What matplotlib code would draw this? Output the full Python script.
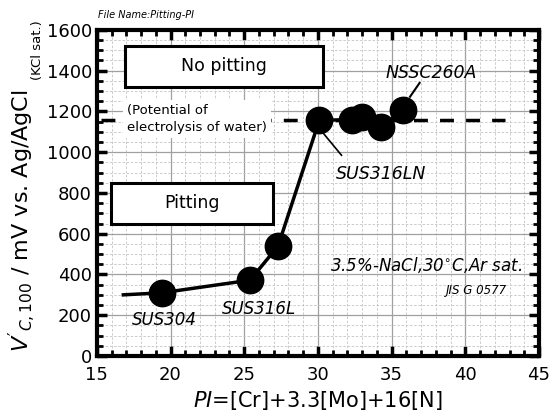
import numpy as np
import matplotlib
matplotlib.use("Agg")
import matplotlib.pyplot as plt
from matplotlib.patches import Rectangle
from matplotlib.ticker import MultipleLocator

plt.rcParams['mathtext.fontset'] = 'custom'
plt.rcParams['mathtext.rm'] = 'DejaVu Sans'
plt.rcParams['mathtext.it'] = 'DejaVu Sans:italic'

# PI values and pitting potentials
pi_line = [16.8, 19.4, 25.4, 27.3, 30.1, 32.3, 33.0, 34.3, 35.8]
v_line = [300, 310, 372, 540, 1158, 1158, 1172, 1125, 1205]
pi_pts = pi_line[1:]
v_pts = v_line[1:]

water_x = [15.3, 42.7]
water_v = [1160, 1160]

fig = plt.figure(figsize=(5.5, 4.17), dpi=100)
ax = fig.add_axes([0.176, 0.1463, 0.804, 0.782])

ax.set_xlim(15, 45)
ax.set_ylim(0, 1600)
ax.xaxis.set_major_locator(MultipleLocator(5))
ax.xaxis.set_minor_locator(MultipleLocator(1))
ax.yaxis.set_major_locator(MultipleLocator(200))
ax.yaxis.set_minor_locator(MultipleLocator(50))

ax.grid(which="major", color="#a0a0a0", lw=0.9, ls="-")
ax.grid(which="minor", color="#c4c4c4", lw=0.6, ls=(0, (3, 2)))
ax.set_axisbelow(True)

ax.tick_params(which="major", direction="in", length=7, width=2.5,
               top=True, right=True, labelsize=13)
ax.tick_params(axis="x", which="major", pad=7)
ax.tick_params(which="minor", direction="in", length=4, width=2,
               top=True, right=True)
for s in ax.spines.values():
    s.set_linewidth(3)

# electrolysis of water line
ax.plot(water_x, water_v, color="black", lw=2.5, ls=(0, (4, 3.5)), zorder=2)

ax.plot(pi_line, v_line, color="black", lw=2.5, zorder=3)
ax.plot(pi_pts, v_pts, "o", color="black", ms=19, zorder=4)

# boxes
ax.add_patch(Rectangle((0.063, 0.825), 0.448, 0.126, transform=ax.transAxes,
                       fc="white", ec="black", lw=2.2, zorder=5))
ax.text(0.287, 0.888, "No pitting", transform=ax.transAxes, fontsize=12.5,
        ha="center", va="center", zorder=6)
ax.add_patch(Rectangle((0.032, 0.405), 0.366, 0.126, transform=ax.transAxes,
                       fc="white", ec="black", lw=2.2, zorder=5))
ax.text(0.215, 0.468, "Pitting", transform=ax.transAxes, fontsize=12.5,
        ha="center", va="center", zorder=6)

ax.text(0.068, 0.727, "(Potential of\nelectrolysis of water)", transform=ax.transAxes,
        fontsize=9.5, ha="left", va="center", linespacing=1.35, zorder=6,
        bbox=dict(fc="white", ec="none", pad=3))

# labels of points
ax.text(37.7, 1390, "NSSC260A", fontsize=12.5, style="italic", ha="center", va="center")
ax.plot([36.9, 36.25], [1340, 1272], color="black", lw=1.5)
ax.text(34.3, 895, "SUS316LN", fontsize=12.5, style="italic", ha="center", va="center")
ax.plot([31.6, 30.4], [985, 1090], color="black", lw=1.2)
ax.text(26.0, 232, "SUS316L", fontsize=12, style="italic", ha="center", va="center")
ax.text(19.6, 175, "SUS304", fontsize=12, style="italic", ha="center", va="center")

ax.text(43.9, 447, "3.5%-NaCl,30$^{\\circ}$C,Ar sat.", fontsize=12, style="italic",
        ha="right", va="center")
ax.text(42.8, 322, "JIS G 0577", fontsize=8.5, style="italic", ha="right", va="center")

ax.set_xlabel("$PI$=[Cr]+3.3[Mo]+16[N]", fontsize=15, labelpad=4)
fig.text(0.04, 0.47, "$V'_{\\mathit{C,100}}$ / mV vs. Ag/AgCl", rotation=90, fontsize=16,
         ha="center", va="center")
fig.text(0.068, 0.88, "(KCl sat.)", rotation=90, fontsize=9.5, ha="center", va="center")
fig.text(0.178, 0.963, "File Name:Pitting-PI", fontsize=7, style="italic",
         ha="left", va="center")

fig.savefig("out.png", dpi=100)
